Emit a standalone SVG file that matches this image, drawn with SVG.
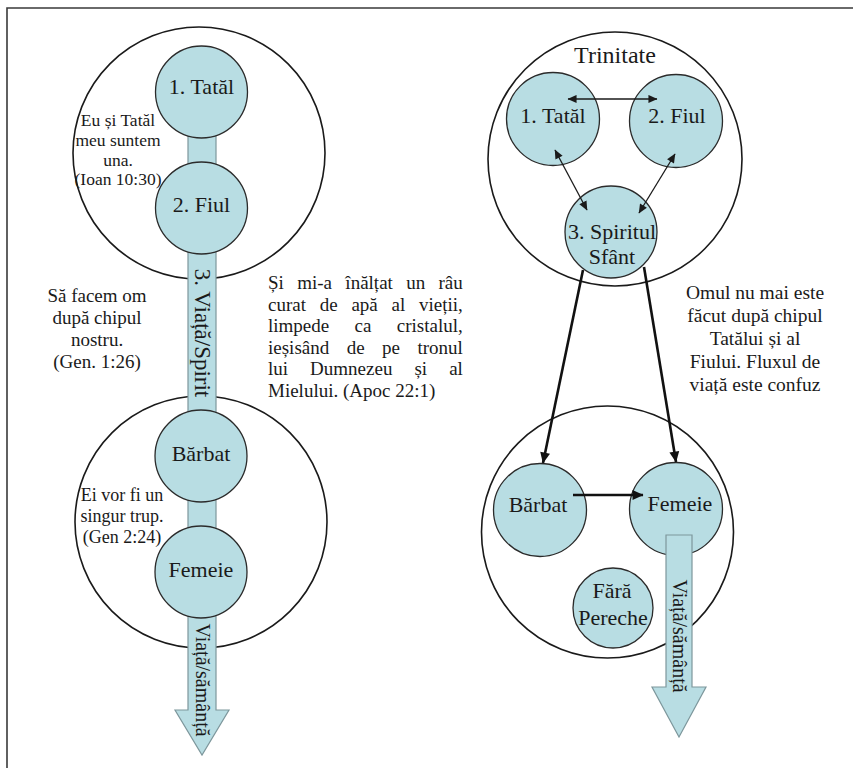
<svg xmlns="http://www.w3.org/2000/svg" width="853" height="768" viewBox="0 0 853 768">
<defs>
<style>
text{font-family:"Liberation Serif","DejaVu Serif",serif;fill:#1a1a1a}
.big{fill:#fff;stroke:#1a1a1a;stroke-width:1.6}
.node{fill:#b8dde3;stroke:#2b2b2b;stroke-width:1.3}
.flow{fill:#b8dde3;stroke:#7d979c;stroke-width:1.2}
.lbl{font-size:22px;text-anchor:middle}
.note{text-anchor:middle}
.thin{fill:none;stroke:#1a1a1a;stroke-width:1.3}
.thick{fill:none;stroke:#111;stroke-width:2.6}
</style>
<marker id="ah" viewBox="0 0 10 10" refX="9.5" refY="5" markerWidth="10" markerHeight="9" markerUnits="userSpaceOnUse" orient="auto-start-reverse"><path d="M0,0.5 L10,5 L0,9.5 z" fill="#1a1a1a"/></marker>
<marker id="ahb" viewBox="0 0 10 10" refX="9.5" refY="5" markerWidth="12" markerHeight="11" markerUnits="userSpaceOnUse" orient="auto"><path d="M0,0.5 L10,5 L0,9.5 z" fill="#111"/></marker>
</defs>
<rect width="853" height="768" fill="#fff"/>
<path d="M7,768 V8 H853" fill="none" stroke="#3a3a3a" stroke-width="1.6"/>

<g id="left-top-circle"><circle class="big" cx="199" cy="153" r="126"/></g>
<g id="left-bottom-circle"><circle class="big" cx="201" cy="522" r="126"/></g>
<g id="right-top-circle"><circle class="big" cx="615" cy="159" r="127"/>
<text x="615" y="63" font-size="24" text-anchor="middle">Trinitate</text></g>
<g id="right-bottom-circle"><circle class="big" cx="607.5" cy="532" r="126"/></g>

<g id="flow-left"><polygon class="flow" points="188,92 216,92 216,710 229,710 202,755 175,710 188,710"/></g>

<g id="l-tatal"><circle class="node" cx="201.5" cy="92" r="46"/><text class="lbl" x="201.5" y="94">1. Tatăl</text></g>
<g id="l-fiul"><circle class="node" cx="201.5" cy="208" r="46"/><text class="lbl" x="201.5" y="212">2. Fiul</text></g>
<g id="l-barbat"><circle class="node" cx="201" cy="456" r="46"/><text class="lbl" x="201" y="461">Bărbat</text></g>
<g id="l-femeie"><circle class="node" cx="201" cy="572" r="46"/><text class="lbl" x="201" y="577">Femeie</text></g>

<g id="flow-left-labels">
<text transform="translate(195,333) rotate(90)" font-size="23" text-anchor="middle">3. Viață/Spirit</text>
<text transform="translate(196,680) rotate(90)" font-size="20" text-anchor="middle">Viață/sămânță</text>
</g>

<g id="r-tatal"><circle class="node" cx="553" cy="119" r="46.5"/><text class="lbl" x="553" y="123">1. Tatăl</text></g>
<g id="r-fiul"><circle class="node" cx="676" cy="121" r="46.5"/><text class="lbl" x="677" y="123">2. Fiul</text></g>
<g id="r-spiritul"><circle class="node" cx="611" cy="232" r="46"/><text class="lbl" x="612" y="239">3. Spiritul</text><text class="lbl" x="612" y="264">Sfânt</text></g>
<g id="r-barbat"><circle class="node" cx="540" cy="510" r="46.5"/><text class="lbl" x="538" y="512">Bărbat</text></g>
<g id="r-femeie"><circle class="node" cx="676" cy="509" r="46.5"/><text class="lbl" x="680" y="511">Femeie</text></g>
<g id="r-fara"><circle class="node" cx="613" cy="608" r="40"/><text class="lbl" x="612" y="598">Fără</text><text class="lbl" x="613" y="625">Pereche</text></g>

<g id="flow-right"><polygon class="flow" points="666,535 692,535 692,687 706,687 679,737 652,687 666,687"/>
<text transform="translate(673,636) rotate(90)" font-size="20" text-anchor="middle">Viață/sămânță</text></g>

<g id="connectors">
<line class="thin" x1="568" y1="99" x2="657" y2="99" marker-start="url(#ah)" marker-end="url(#ah)"/>
<line class="thin" x1="555" y1="150" x2="587" y2="210" marker-start="url(#ah)" marker-end="url(#ah)"/>
<line class="thin" x1="675" y1="154" x2="639" y2="213" marker-start="url(#ah)" marker-end="url(#ah)"/>
<line class="thick" x1="583" y1="270" x2="543" y2="463" marker-end="url(#ahb)"/>
<line class="thick" x1="644" y1="267" x2="676" y2="462" marker-end="url(#ahb)"/>
<line class="thick" x1="573" y1="495" x2="643" y2="495" marker-end="url(#ahb)"/>
</g>

<g id="note-ioan" class="note" font-size="17.5">
<text x="118" y="126">Eu și Tatăl</text>
<text x="118" y="146">meu suntem</text>
<text x="118" y="165.5">una.</text>
<text x="118" y="185">(Ioan 10:30)</text>
</g>
<g id="note-gen1" class="note" font-size="19">
<text x="97" y="302">Să facem om</text>
<text x="97" y="324">după chipul</text>
<text x="97" y="346">nostru.</text>
<text x="97" y="368">(Gen. 1:26)</text>
</g>
<g id="note-gen2" class="note" font-size="18">
<text x="122" y="501">Ei vor fi un</text>
<text x="122" y="522">singur trup.</text>
<text x="122" y="543">(Gen 2:24)</text>
</g>
<g id="note-apoc" font-size="19">
<text x="268" y="289" word-spacing="8.6">Și mi-a înălțat un râu</text>
<text x="268" y="310.6" word-spacing="9">curat de apă al vieții,</text>
<text x="268" y="332.2" word-spacing="20.6">limpede ca cristalul,</text>
<text x="268" y="353.8" word-spacing="12.7">ieșisând de pe tronul</text>
<text x="268" y="375.4" word-spacing="17.3">lui Dumnezeu și al</text>
<text x="268" y="397">Mielului. (Apoc 22:1)</text>
</g>
<g id="note-omul" class="note" font-size="19.5">
<text x="755" y="299">Omul nu mai este</text>
<text x="755" y="322">făcut după chipul</text>
<text x="755" y="345">Tatălui și al</text>
<text x="755" y="368">Fiului. Fluxul de</text>
<text x="755" y="391">viață este confuz</text>
</g>
</svg>
